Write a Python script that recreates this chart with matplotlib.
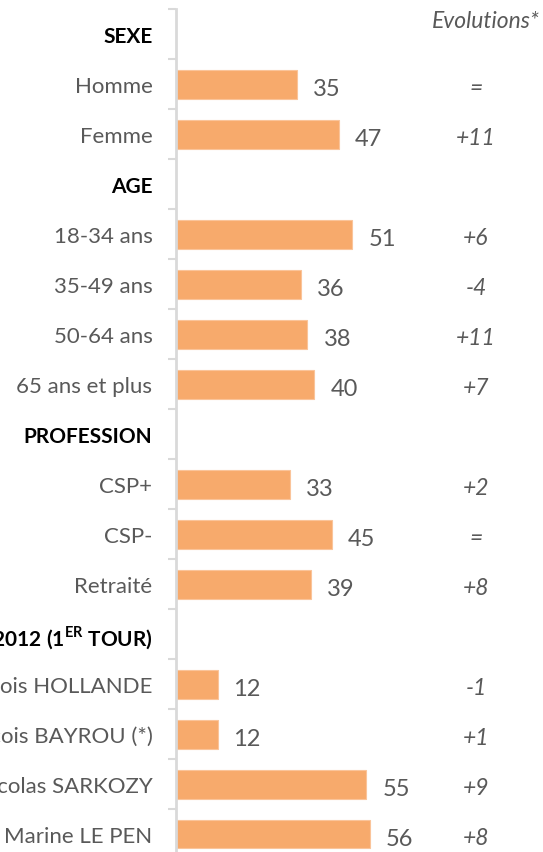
import matplotlib
matplotlib.use("Agg")
import matplotlib.pyplot as plt
import numpy as np

plt.rcParams['font.family'] = ['Lato', 'DejaVu Sans']

categories = ["SEXE", "Homme", "Femme",
              "AGE", "18-34 ans", "35-49 ans", "50-64 ans", "65 ans et plus",
              "PROFESSION", "CSP+", "CSP-", "Retraité",
              r"VOTE PRÉSIDENTIELLE 2012 (1$^{\mathregular{ER}}$ TOUR)",
              "François HOLLANDE", "François BAYROU (*)", "Nicolas SARKOZY", "Marine LE PEN"]
is_header = [True, False, False,
             True, False, False, False, False,
             True, False, False, False,
             True, False, False, False, False]
values = [None, 35, 47,
          None, 51, 36, 38, 40,
          None, 33, 45, 39,
          None, 12, 12, 55, 56]
evolutions = ["", "=", "+11",
              "", "+6", "-4", "+11", "+7",
              "", "+2", "=", "+8",
              "", "-1", "+1", "+9", "+8"]

W, H = 543, 853
fig = plt.figure(figsize=(W/100, H/100), dpi=100)
ax = fig.add_axes([176/W, (H-860)/H, (W-176)/W, 850/H])

bar_color = '#F7AA6C'
gray = '#595959'
n = len(categories)
ypos = np.arange(n)
for y, v in zip(ypos, values):
    if v is None:
        continue
    ax.barh(y, v, height=0.58, color=bar_color, edgecolor='#FAC49A', linewidth=0.8)
    ax.annotate(str(v), xy=(v, y), xytext=(11.5, -2), textcoords='offset points',
                ha='left', va='center_baseline', fontsize=17, color=gray)

for y, e in zip(ypos, evolutions):
    if e:
        ax.annotate(e, xy=(0.8174, y), xycoords=ax.get_yaxis_transform(),
                    xytext=(0, -1), textcoords='offset points',
                    ha='center', va='center_baseline',
                    fontsize=16.5, style='italic', color=gray)

ax.set_ylim(n - 0.5, -0.5)
ax.set_xlim(0, 367/3.46)

ax.set_yticks(ypos)
ax.set_yticklabels(categories)
for lab, h in zip(ax.get_yticklabels(), is_header):
    if h:
        lab.set_fontweight('bold')
        lab.set_color('black')
        lab.set_fontsize(15)
    else:
        lab.set_color(gray)
        lab.set_fontsize(16)
ax.tick_params(axis='y', which='major', length=0, pad=17)
ax.set_yticks(np.arange(-0.5, n + 0.5, 1), minor=True)
ax.tick_params(axis='y', which='minor', length=6, width=1.5, color='#D9D9D9')

ax.set_xticks([])
for s in ['top', 'right', 'bottom']:
    ax.spines[s].set_visible(False)
ax.spines['left'].set_color('#D9D9D9')
ax.spines['left'].set_linewidth(2)

fig.text(540/W, 1 - 21/H, "Evolutions*", ha='right', va='center', fontsize=16.5,
         style='italic', color=gray)

fig.savefig("out.png", dpi=100)
